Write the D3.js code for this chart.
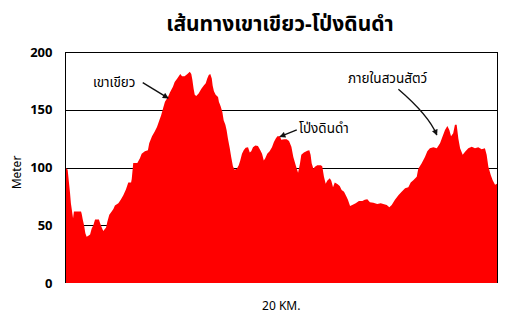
<!DOCTYPE html>
<html>
<head>
<meta charset="utf-8">
<script src="https://cdn.jsdelivr.net/npm/d3@7"></script>
<style>
  body { margin: 0; background: #fff; }
  text { font-family: Tahoma, "Noto Sans Thai", "DejaVu Sans", sans-serif; }
</style>
</head>
<body>
<script>
// distance along the trail (km) and elevation (m)
var distance = [0, 0.10, 0.16, 0.21, 0.25, 0.32, 0.35, 0.39, 0.72, 0.75, 0.80, 0.86, 0.92, 0.98, 1.06, 1.14, 1.21, 1.29, 1.37, 1.55,
  1.60, 1.68, 1.75, 1.88, 1.94, 2.03, 2.14, 2.22, 2.29, 2.45, 2.56, 2.68, 2.80, 2.91, 3.04, 3.07, 3.14, 3.33, 3.45, 3.53,
  3.68, 3.82, 3.88, 4.01, 4.13, 4.24, 4.35, 4.43, 4.52, 4.61, 4.75, 4.84, 4.90, 4.98, 5.06, 5.18, 5.32, 5.40, 5.52, 5.65,
  5.76, 5.83, 5.88, 5.94, 5.99, 6.06, 6.17, 6.29, 6.41, 6.50, 6.57, 6.64, 6.71, 6.78, 6.82, 6.88, 6.96, 7.07, 7.11, 7.19,
  7.27, 7.33, 7.41, 7.47, 7.53, 7.61, 7.68, 7.76, 7.84, 7.94, 8.03, 8.10, 8.18, 8.26, 8.35, 8.46, 8.54, 8.61, 8.69, 8.80,
  8.92, 9.03, 9.11, 9.19, 9.26, 9.35, 9.46, 9.57, 9.66, 9.74, 9.82, 9.94, 10.00, 10.13, 10.25, 10.36, 10.47, 10.56, 10.67, 10.78,
  10.87, 10.93, 11.05, 11.21, 11.30, 11.36, 11.41, 11.49, 11.56, 11.67, 11.83, 11.90, 11.98, 12.06, 12.13, 12.25, 12.32, 12.40, 12.48, 12.60,
  12.71, 12.80, 12.91, 13.02, 13.09, 13.19, 13.29, 13.45, 13.60, 13.76, 13.87, 13.99, 14.11, 14.27, 14.45, 14.61, 14.73, 14.89, 15.01, 15.12,
  15.27, 15.43, 15.58, 15.74, 15.89, 16.00, 16.12, 16.28, 16.35, 16.51, 16.66, 16.77, 16.89, 17.05, 17.21, 17.36, 17.48, 17.59, 17.70, 17.79,
  17.87, 17.97, 18.05, 18.13, 18.21, 18.29, 18.41, 18.52, 18.67, 18.83, 18.98, 19.13, 19.29, 19.44, 19.52, 19.60, 19.71, 19.80, 19.91, 20.00];
var elevation = [100, 98, 87, 78, 69, 60, 56, 62, 62, 60, 55, 50, 43, 40, 41, 42, 47, 50, 55, 55,
  52, 48, 45, 48, 53, 59, 62, 64, 67, 69, 72, 76, 81, 87, 87, 90, 104, 104, 108, 112,
  114, 115, 121, 127, 131, 135, 141, 145, 151, 157, 161, 165, 167, 170, 174, 177, 181, 179, 179, 181,
  183, 181, 176, 168, 163, 162, 164, 168, 171, 173, 177, 180, 181, 177, 171, 166, 163, 161, 157, 153,
  148, 141, 137, 132, 125, 117, 109, 101, 98, 99, 102, 106, 112, 115, 117, 117.5, 113, 114, 117.5, 119,
  118.6, 115, 112, 106, 108, 112, 114, 117.5, 122, 125, 127, 127, 124, 124.4, 124.4, 123, 118, 109, 102, 95.5,
  103.6, 111, 113, 114.5, 115, 111, 103.6, 99, 100.7, 102, 102, 101, 92, 86, 88.6, 90.6, 88.6, 83, 87, 85.7,
  84, 80.5, 79, 75, 72, 66.7, 67.5, 69, 71, 71, 72, 72.5, 70, 69.5, 68.4, 69, 68.4, 67.5, 65.5, 67.5,
  72, 76, 79, 82, 83, 87, 89, 92, 99, 103.6, 109, 114, 116.6, 117.5, 116.6, 121, 127, 132.5, 136, 132.5,
  127, 129.6, 137, 137, 125, 116.6, 111, 113.7, 116.6, 118, 116.6, 117.5, 115.8, 116.6, 111, 100.7, 93.5, 89, 85, 86];

var yTicks = [0, 50, 100, 150, 200];
var title = "เส้นทางเขาเขียว-โป่งดินดำ";
var xLabel = "20 KM.";
var yLabel = "Meter";

// labels with the point the arrow points at (km, m)
var notes = [
  {label: "เขาเขียว", tx: 1.27, ty: 170, x0: 3.58, y0: 173.4, x1: 4.76, y1: 160},
  {label: "โป่งดินดำ", tx: 10.82, ty: 130, x0: 10.72, y0: 132.5, x1: 9.94, y1: 126.7},
  {label: "ภายในสวนสัตว์", tx: 13.09, ty: 173, x0: 15.43, y0: 167.7, cx: 16.84, cy: 145.1, x1: 17.21, y1: 128.1}
];

var width = 515, height = 316;
var margin = {top: 52, right: 18, bottom: 33, left: 65.5};

var svg = d3.select("body").append("svg")
    .attr("width", width)
    .attr("height", height);

var x = d3.scaleLinear()
    .domain([0, 20])
    .range([margin.left, width - margin.right]);

var y = d3.scaleLinear()
    .domain([0, 200])
    .range([height - margin.bottom, margin.top]);

svg.append("defs").append("marker")
    .attr("id", "arrow")
    .attr("viewBox", "0 0 10 10")
    .attr("refX", 9)
    .attr("refY", 5)
    .attr("markerWidth", 7)
    .attr("markerHeight", 6)
    .attr("markerUnits", "userSpaceOnUse")
    .attr("orient", "auto")
  .append("path")
    .attr("d", "M0,0L10,5L0,10z")
    .attr("fill", "#111");

// grid lines and right border sit behind the area
svg.append("g")
  .selectAll("line")
    .data(yTicks.slice(1))
  .enter().append("line")
    .attr("x1", x(0))
    .attr("x2", x(20))
    .attr("y1", function(d) { return Math.round(y(d)) + 0.5; })
    .attr("y2", function(d) { return Math.round(y(d)) + 0.5; })
    .attr("stroke", "#000")
    .attr("stroke-width", 1);

svg.append("line")
    .attr("x1", Math.round(x(20)) + 0.5)
    .attr("x2", Math.round(x(20)) + 0.5)
    .attr("y1", y(200))
    .attr("y2", y(0))
    .attr("stroke", "#000");

var points = distance.map(function(d, i) { return [d, elevation[i]]; });

var area = d3.area()
    .x(function(d) { return x(d[0]); })
    .y0(y(0))
    .y1(function(d) { return y(d[1]); });

svg.append("path")
    .datum(points)
    .attr("d", area)
    .attr("fill", "#ff0000");

// left axis
svg.append("line")
    .attr("x1", x(0))
    .attr("x2", x(0))
    .attr("y1", y(200))
    .attr("y2", y(0))
    .attr("stroke", "#000");

var yAxis = d3.axisLeft(y)
    .tickValues(yTicks)
    .tickSize(0)
    .tickPadding(13);

var gy = svg.append("g")
    .attr("transform", "translate(" + x(0) + ",0)")
    .call(yAxis);
gy.select(".domain").remove();
gy.selectAll("text")
    .attr("font-family", "'Liberation Sans', Arial, sans-serif")
    .attr("font-weight", "bold")
    .attr("font-size", 13)
    .attr("fill", "#000");

svg.append("text")
    .attr("x", 280)
    .attr("y", 31)
    .attr("text-anchor", "middle")
    .attr("font-size", 21)
    .attr("font-weight", "bold")
    .text(title);

svg.append("text")
    .attr("x", (x(0) + x(20)) / 2)
    .attr("y", 310)
    .attr("text-anchor", "middle")
    .attr("font-family", "'Liberation Sans', Arial, sans-serif")
    .attr("font-size", 12)
    .text(xLabel);

svg.append("text")
    .attr("transform", "translate(21," + (y(100) + 5) + ") rotate(-90)")
    .attr("text-anchor", "middle")
    .attr("font-family", "'Liberation Sans', Arial, sans-serif")
    .attr("font-size", 12)
    .text(yLabel);

var note = svg.append("g")
  .selectAll("g")
    .data(notes)
  .enter().append("g");

note.append("text")
    .attr("x", function(d) { return x(d.tx); })
    .attr("y", function(d) { return y(d.ty); })
    .attr("font-size", 13.5)
    .text(function(d) { return d.label; });

note.append("path")
    .attr("d", function(d) {
      var p = d3.path();
      p.moveTo(x(d.x0), y(d.y0));
      if (d.cx != null) p.quadraticCurveTo(x(d.cx), y(d.cy), x(d.x1), y(d.y1));
      else p.lineTo(x(d.x1), y(d.y1));
      return p.toString();
    })
    .attr("fill", "none")
    .attr("stroke", "#111")
    .attr("stroke-width", 1.4)
    .attr("marker-end", "url(#arrow)");
</script>
</body>
</html>
